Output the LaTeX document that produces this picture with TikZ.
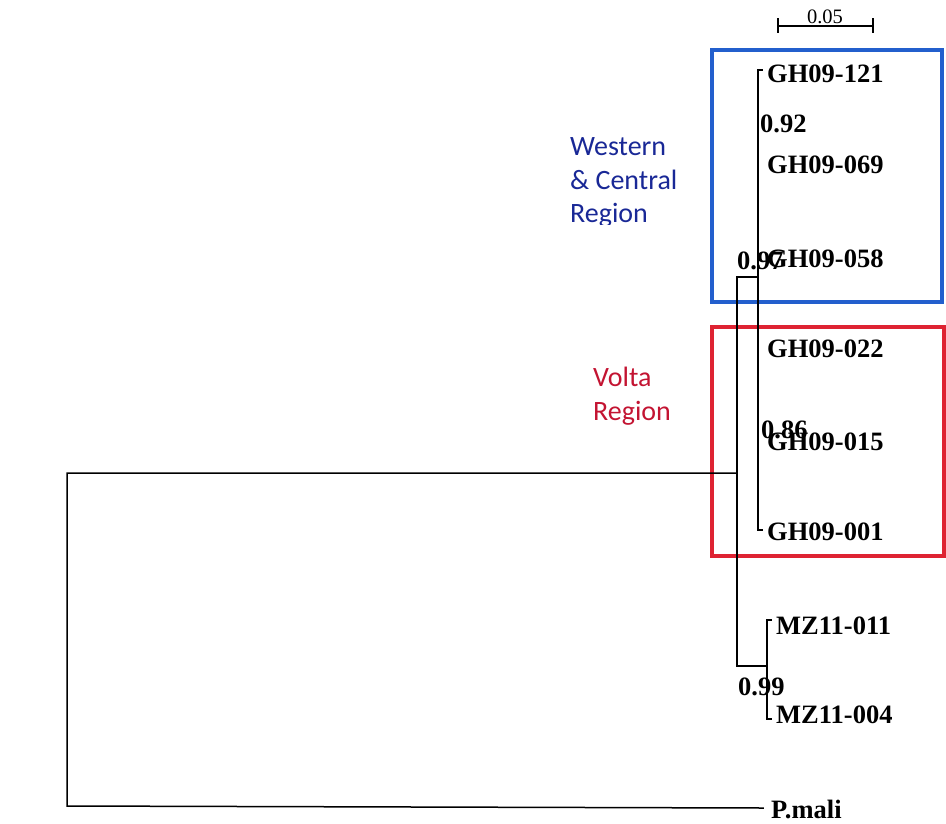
\documentclass[tikz,border=0pt]{standalone}
\usepackage{fontspec}
\setmainfont{Liberation Serif}
\newfontfamily\calfont{Carlito}
\definecolor{boxblue}{RGB}{35,95,205}
\definecolor{boxred}{RGB}{222,35,50}
\definecolor{txtblue}{RGB}{25,40,150}
\definecolor{txtred}{RGB}{195,20,50}
\begin{document}
\begin{tikzpicture}[x=1pt,y=-1pt,
  branch/.style={line width=1.5pt, black, line cap=rect},
  tiplabel/.style={anchor=base west, inner sep=0pt, font=\fontsize{26.5}{26}\selectfont\bfseries},
  support/.style={anchor=base west, inner sep=0pt, font=\fontsize{26.5}{26}\selectfont\bfseries},
  regionblue/.style={anchor=base west, inner sep=0pt, text=txtblue, font=\calfont\fontsize{28}{34}\selectfont},
  regionred/.style={anchor=base west, inner sep=0pt, text=txtred, font=\calfont\fontsize{28}{34}\selectfont},
  groupbox/.style={line width=4pt}]
\useasboundingbox (0,0) rectangle (946,823);

% group boxes
\draw[groupbox, boxblue] (712,50) rectangle (942,302);
\draw[groupbox, boxred] (712,327) rectangle (944,556);

% region labels
\begin{scope}
  \clip (540,100) rectangle (705,224);
  \node[regionblue] (wc1) at (570,155) {Western};
  \node[regionblue] (wc2) at (570,189) {\& Central};
  \node[regionblue] (wc3) at (570,222) {Region};
\end{scope}
\node[regionred] (vr1) at (593,386) {Volta};
\node[regionred] (vr2) at (593,420) {Region};

% tree coordinates
\coordinate (rootT) at (67,473);
\coordinate (rootB) at (67,806);
\coordinate (pmali) at (763,808);
\coordinate (n97) at (737,473);
\coordinate (n97T) at (737,277);
\coordinate (n97B) at (737,666);
\coordinate (ghT) at (758,70);
\coordinate (ghM) at (758,277);
\coordinate (ghB) at (758,530);
\coordinate (t121) at (762,70);
\coordinate (t001) at (762,530);
\coordinate (mzM) at (767,666);
\coordinate (mzT) at (767,620);
\coordinate (mzB) at (767,719);
\coordinate (t011) at (771,620);
\coordinate (t004) at (771,719);

% branches
\draw[branch] (pmali) -- (rootB) -- (rootT) -- (n97);
\draw[branch] (ghM) -- (n97T) -- (n97B) -- (mzM);
\draw[branch] (t121) -- (ghT) -- (ghB) -- (t001);
\draw[branch] (t011) -- (mzT) -- (mzB) -- (t004);

% tip labels
\node[tiplabel] (l121) at (767,82) {GH09-121};
\node[tiplabel] (l069) at (767,173) {GH09-069};
\node[tiplabel] (l058) at (767,267) {GH09-058};
\node[tiplabel] (l022) at (767,357) {GH09-022};
\node[tiplabel] (l015) at (767,450) {GH09-015};
\node[tiplabel] (l001) at (767,540) {GH09-001};
\node[tiplabel] (l011) at (776,634) {MZ11-011};
\node[tiplabel] (l004) at (776,723) {MZ11-004};
\node[tiplabel] (lpm) at (771,818) {P.mali};

% support values
\node[support] (s92) at (760,132) {0.92};
\node[support] (s97) at (737,269) {0.97};
\node[support] (s86) at (761,438) {0.86};
\node[support] (s99) at (738,695) {0.99};

% scale bar
\coordinate (sbL) at (778,26);
\coordinate (sbR) at (873,26);
\draw[line width=1.2pt] (sbL) -- (sbR);
\draw[line width=1.2pt] ([yshift=8pt]sbL) -- ([yshift=-7pt]sbL);
\draw[line width=1.2pt] ([yshift=8pt]sbR) -- ([yshift=-7pt]sbR);
\node[anchor=base, inner sep=0pt, font=\fontsize{20.5}{20}\selectfont] (sblab) at (825,23) {0.05};
\end{tikzpicture}
\end{document}
